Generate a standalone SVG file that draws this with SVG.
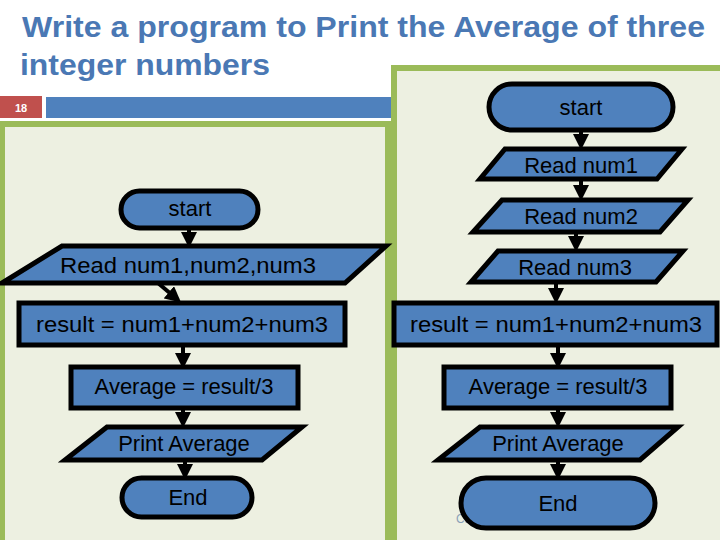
<svg xmlns="http://www.w3.org/2000/svg" width="720" height="540" viewBox="0 0 720 540">
<defs>
<style>
.s{fill:#4f81bd;stroke:#000;stroke-width:5}
.t{font-family:"Liberation Sans",Arial,sans-serif;font-size:22px;fill:#000;text-anchor:middle}
.p{fill:#edf0e1;stroke:#9bbb59;stroke-width:6}
.c line{stroke:#000;stroke-width:4}
.h{font-family:"Liberation Sans",Arial,sans-serif;font-size:29px;font-weight:bold;fill:#4a78b4}
</style>
<marker id="a" markerWidth="4" markerHeight="4" refX="3" refY="2" orient="auto" markerUnits="strokeWidth"><path d="M0,0L4,2L0,4z" fill="#000"/></marker>
</defs>
<rect width="720" height="540" fill="#fff"/>
<text class="h" x="22" y="37" textLength="683" lengthAdjust="spacingAndGlyphs">Write a program to Print the Average of three</text>
<text class="h" x="20" y="75" textLength="250" lengthAdjust="spacingAndGlyphs">integer numbers</text>
<rect x="0" y="96" width="42" height="22" fill="#c0504d"/>
<text x="21" y="112" font-family="Liberation Sans,Arial,sans-serif" font-size="11" font-weight="bold" fill="#fff" text-anchor="middle">18</text>
<rect x="46" y="97" width="346" height="21" fill="#4f81bd"/>
<rect class="p" x="2" y="124" width="386" height="420"/>
<rect class="p" x="394" y="68" width="330" height="476"/>
<text x="456" y="523" font-family="Liberation Sans,Arial,sans-serif" font-size="12" fill="#8aa0b8">Ca</text>
<g class="c">
<line x1="189" y1="228" x2="189" y2="244" marker-end="url(#a)"/>
<line x1="158" y1="283" x2="178" y2="300" marker-end="url(#a)"/>
<line x1="183" y1="345" x2="183" y2="365" marker-end="url(#a)"/>
<line x1="183" y1="408" x2="183" y2="424" marker-end="url(#a)"/>
<line x1="185" y1="460" x2="185" y2="476" marker-end="url(#a)"/>
<line x1="581" y1="130" x2="581" y2="146" marker-end="url(#a)"/>
<line x1="581" y1="179" x2="581" y2="197" marker-end="url(#a)"/>
<line x1="576" y1="232" x2="576" y2="248" marker-end="url(#a)"/>
<line x1="556" y1="282" x2="556" y2="300" marker-end="url(#a)"/>
<line x1="558" y1="345" x2="558" y2="365" marker-end="url(#a)"/>
<line x1="558" y1="408" x2="558" y2="424" marker-end="url(#a)"/>
<line x1="558" y1="460" x2="558" y2="476" marker-end="url(#a)"/>
</g>
<g id="L1"><rect class="s" x="121" y="191" width="137" height="37" rx="18.5"/><text class="t" x="190" y="216">start</text></g>
<g id="L2"><polygon class="s" points="62,246 386,246 345,283 2,283"/><text class="t" x="188" y="273" textLength="256" lengthAdjust="spacingAndGlyphs">Read num1,num2,num3</text></g>
<g id="L3"><rect class="s" x="19" y="303" width="326" height="42"/><text class="t" x="182" y="332" textLength="292" lengthAdjust="spacingAndGlyphs">result = num1+num2+num3</text></g>
<g id="L4"><rect class="s" x="71" y="367" width="227" height="41"/><text class="t" x="184" y="394">Average = result/3</text></g>
<g id="L5"><polygon class="s" points="107,427 302,427 262,460 65,460"/><text class="t" x="184" y="451">Print Average</text></g>
<g id="L6"><rect class="s" x="122" y="478" width="130" height="39" rx="19.5"/><text class="t" x="188" y="505">End</text></g>
<g id="R1"><rect class="s" x="489" y="84" width="184" height="46" rx="23"/><text class="t" x="581" y="115">start</text></g>
<g id="R2"><polygon class="s" points="505,149 682,149 657,179 480,179"/><text class="t" x="581" y="173">Read num1</text></g>
<g id="R3"><polygon class="s" points="502,200 688,200 660,232 473,232"/><text class="t" x="581" y="224">Read num2</text></g>
<g id="R4"><polygon class="s" points="498,251 683,251 656,282 471,282"/><text class="t" x="575" y="275">Read num3</text></g>
<g id="R5"><rect class="s" x="394" y="303" width="323" height="42"/><text class="t" x="556" y="332" textLength="292" lengthAdjust="spacingAndGlyphs">result = num1+num2+num3</text></g>
<g id="R6"><rect class="s" x="444" y="367" width="227" height="41"/><text class="t" x="558" y="394">Average = result/3</text></g>
<g id="R7"><polygon class="s" points="480,427 678,427 640,460 438,460"/><text class="t" x="558" y="451">Print Average</text></g>
<g id="R8"><rect class="s" x="461" y="478" width="194" height="50" rx="25"/><text class="t" x="558" y="511">End</text></g>
</svg>
